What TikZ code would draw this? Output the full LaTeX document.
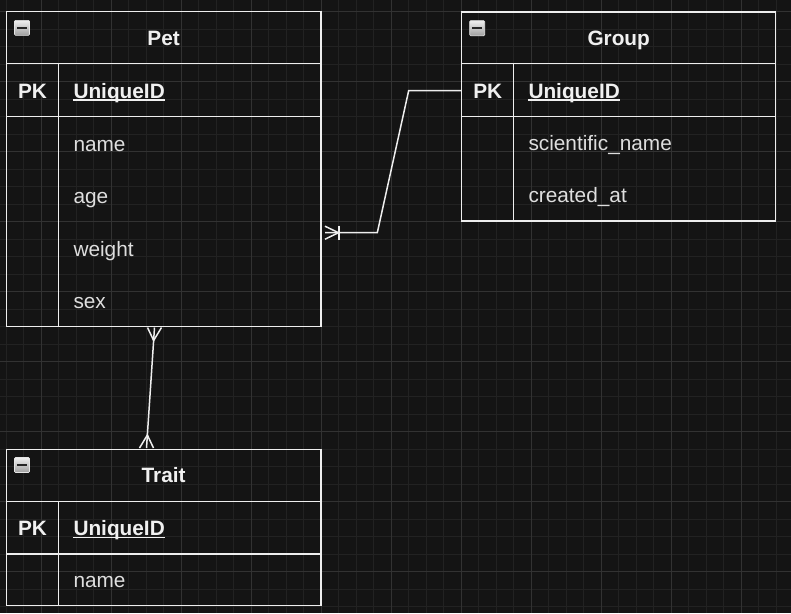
\documentclass[tikz,border=0pt]{standalone}
\usepackage{fontspec}
\setmainfont{Liberation Sans}
\usetikzlibrary{calc}
\definecolor{bg}{HTML}{141414}
\definecolor{gminor}{HTML}{222222}
\definecolor{gmajor}{HTML}{323232}
\definecolor{lc}{HTML}{EEEEEE}
\definecolor{tc}{HTML}{F0F0F0}
\definecolor{fc}{HTML}{DEDEDE}
\newcommand\ttlfont{\fontsize{20.8}{24}\selectfont\bfseries}
\newcommand\fldfont{\fontsize{20.8}{24}\selectfont}
\tikzset{
  tbl/.style={draw=lc, line width=1.5pt, inner sep=0pt, outer sep=0pt, anchor=north west},
  ttl/.style={font=\ttlfont, text=tc, inner sep=0pt, anchor=base},
  fld/.style={font=\fldfont, text=fc, inner sep=0pt, anchor=base west},
  sepline/.style={draw=lc, line width=1.5pt},
  conn/.style={draw=lc, line width=1.5pt},
  ulline/.style={draw=tc, line width=1.4pt},
  iconbox/.style={rounded corners=1pt, draw=white!80!gray, line width=0.6pt, top color=white!88!gray, bottom color=gray!75, minimum width=15pt, minimum height=15pt, inner sep=0pt, outer sep=0pt},
  minusbar/.style={draw=black!85, line width=2.4pt}
}
\begin{document}
\begin{tikzpicture}[x=1pt,y=-1pt]
\useasboundingbox (0,0) rectangle (791,613);
\fill[bg] (0,0) rectangle (791,613);
% grid
\foreach \i in {0,...,44} \draw[gminor, line width=0.8pt] (6.3+17.5*\i,0) -- (6.3+17.5*\i,613);
\foreach \j in {0,...,34} \draw[gminor, line width=0.8pt] (0,11.5+17.5*\j) -- (791,11.5+17.5*\j);
\foreach \i in {0,...,10} \draw[gmajor, line width=0.8pt] (41.3+70*\i,0) -- (41.3+70*\i,613);
\foreach \j in {0,...,8} \draw[gmajor, line width=0.8pt] (0,11.5+70*\j) -- (791,11.5+70*\j);

% ---------- Pet ----------
\node[tbl, minimum width=314.7pt, minimum height=315pt] (pet) at (6.3,11.7) {};
\draw[sepline] (6.3,63.7) -- (321,63.7);
\draw[sepline] (6.3,116.7) -- (321,116.7);
\draw[sepline] (58.7,63.7) -- (58.7,326.7);
\node[iconbox] (ipet) at (22,27.8) {};
\draw[minusbar] ([xshift=-5pt]ipet.center) -- ([xshift=5pt]ipet.center);
\node[ttl] (petT) at (163.6,45) {Pet};
\node[ttl] (petPK) at (32.5,98.3) {PK};
\node[fld, font=\ttlfont, text=tc] (petID) at (73.3,98.3) {UniqueID};
\draw[ulline] ([yshift=-1.8pt]petID.base west) -- ([yshift=-1.8pt]petID.base east);
\node[fld] (petF1) at (73.3,151) {name};
\node[fld] (petF2) at (73.3,203.5) {age};
\node[fld] (petF3) at (73.3,256) {weight};
\node[fld] (petF4) at (73.3,308.5) {sex};

% ---------- Group ----------
\node[tbl, minimum width=314pt, minimum height=209pt] (group) at (461.7,12) {};
\draw[sepline] (461.7,63.7) -- (775.7,63.7);
\draw[sepline] (461.7,116.7) -- (775.7,116.7);
\draw[sepline] (513.7,63.7) -- (513.7,221);
\node[iconbox] (igroup) at (477.2,28.2) {};
\draw[minusbar] ([xshift=-5pt]igroup.center) -- ([xshift=5pt]igroup.center);
\node[ttl] (groupT) at (618.7,45) {Group};
\node[ttl] (groupPK) at (487.7,98.3) {PK};
\node[fld, font=\ttlfont, text=tc] (groupID) at (528.3,98.3) {UniqueID};
\draw[ulline] ([yshift=-1.8pt]groupID.base west) -- ([yshift=-1.8pt]groupID.base east);
\node[fld] (groupF1) at (528.3,150.5) {scientific\_name};
\node[fld] (groupF2) at (528.3,202.5) {created\_at};

% ---------- Trait ----------
\node[tbl, minimum width=314.7pt, minimum height=156.4pt] (trait) at (6.3,449.3) {};
\draw[sepline] (6.3,501.3) -- (321,501.3);
\draw[sepline] (6.3,554) -- (321,554);
\draw[sepline] (58.7,501.3) -- (58.7,605.7);
\node[iconbox] (itrait) at (22,465) {};
\draw[minusbar] ([xshift=-5pt]itrait.center) -- ([xshift=5pt]itrait.center);
\node[ttl] (traitT) at (163.6,482.8) {Trait};
\node[ttl] (traitPK) at (32.5,535.5) {PK};
\node[fld, font=\ttlfont, text=tc] (traitID) at (73.3,535.5) {UniqueID};
\draw[ulline] ([yshift=-1.8pt]traitID.base west) -- ([yshift=-1.8pt]traitID.base east);
\node[fld] (traitF1) at (73.3,587.7) {name};

% ---------- Group -> Pet (one or many at Pet) ----------
\coordinate (gA) at ($(group.north west)+(0,78.5)$);
\coordinate (pA) at ($(pet.north east)+(4,221)$);
\draw[conn] (gA) -- ++(-53,0) -- ++(-31.4,142.2) -- (pA);
\draw[conn] ($(pA)+(14,-7.2)$) -- ($(pA)+(14,7.2)$);
\draw[conn] ($(pA)+(0,-6.5)$) -- ($(pA)+(13.5,0)$) -- ($(pA)+(0,6.5)$);

% ---------- Pet <-> Trait (many to many) ----------
\coordinate (pB) at ($(pet.south west)+(148.2,0.8)$);
\coordinate (tB) at ($(trait.north west)+(140.2,-1.3)$);
\draw[conn] (pB) -- (tB);
\draw[conn] ($(pB)+(-7,0)$) -- ($(pB)!13pt!(tB)$) -- ($(pB)+(7,0)$);
\draw[conn] ($(tB)+(-7,0)$) -- ($(tB)!13pt!(pB)$) -- ($(tB)+(7,0)$);
\end{tikzpicture}
\end{document}
